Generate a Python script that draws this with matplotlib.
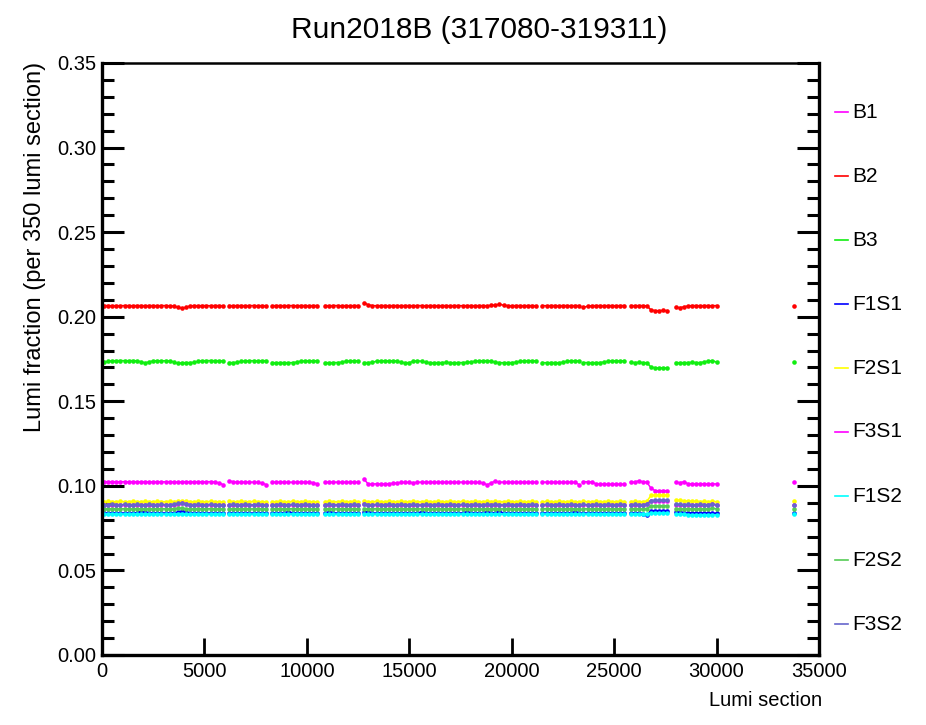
import matplotlib
matplotlib.use("Agg")
import matplotlib.pyplot as plt
import numpy as np
from matplotlib.lines import Line2D
from matplotlib.ticker import MultipleLocator

plt.rcParams["font.family"] = ["Liberation Sans", "DejaVu Sans"]

# lumi section of the first bin in each continuous block, bins are 200 apart
seg_start = [100, 6200, 8300, 10900, 12800, 21500, 23500, 25800, 28000, 33800]
bin_step = 200

# fractions in units of 1e-4, one inner list per block
B1 = [
    [1025, 1024, 1025, 1024, 1024, 1025, 1024, 1025, 1024, 1024, 1025, 1024, 1024, 1025, 1024,
     1024, 1025, 1024, 1023, 1024, 1025, 1024, 1024, 1025, 1024, 1024, 1025, 1024, 1017, 1008],
    [1030, 1024, 1022, 1022, 1023, 1022, 1022, 1021, 1017, 1008],
    [1022, 1022, 1023, 1022, 1022, 1021, 1022, 1023, 1022, 1022, 1019, 1012],
    [1022, 1023, 1022, 1022, 1021, 1022, 1022, 1023, 1022],
    [1038, 1010, 1011, 1012, 1011, 1012, 1013, 1015, 1018, 1020,
     1021, 1020, 1019, 1021, 1022, 1022, 1021, 1022, 1022, 1021,
     1022, 1022, 1021, 1022, 1022, 1021, 1022, 1021, 1020, 1018,
     1006, 1018, 1028, 1022, 1022, 1021, 1022, 1022, 1021, 1022,
     1022, 1021, 1022],
    [1022, 1022, 1021, 1022, 1022, 1021, 1022, 1022, 1020, 1007],
    [1025, 1024, 1023, 1013, 1010, 1011, 1010, 1010, 1011, 1010, 1010],
    [1022, 1023, 1030, 1024, 1022, 985, 972, 971, 972, 971],
    [1022, 1019, 1024, 1013, 1012, 1011, 1012, 1012, 1011, 1012, 1011],
    [1020],
]
B2 = [
    [2066, 2066, 2065, 2066, 2065, 2066, 2066, 2065, 2066, 2066, 2065, 2066, 2066, 2065, 2066,
     2066, 2065, 2063, 2055, 2050, 2056, 2064, 2066, 2065, 2066, 2066, 2065, 2066, 2066, 2065],
    [2066, 2065, 2066, 2066, 2065, 2066, 2066, 2065, 2066, 2065],
    [2065, 2066, 2066, 2065, 2066, 2066, 2065, 2066, 2066, 2065, 2066, 2066],
    [2066, 2065, 2066, 2066, 2065, 2066, 2065, 2066, 2066],
    [2082, 2070, 2066, 2065, 2066, 2066, 2065, 2066, 2066, 2065,
     2066, 2066, 2065, 2066, 2066, 2065, 2066, 2066, 2065, 2066,
     2066, 2065, 2066, 2066, 2065, 2066, 2066, 2065, 2066, 2066,
     2065, 2067, 2069, 2074, 2068, 2066, 2065, 2066, 2066, 2065,
     2066, 2066, 2065],
    [2066, 2065, 2066, 2066, 2065, 2066, 2066, 2065, 2066, 2066],
    [2055, 2062, 2065, 2066, 2066, 2065, 2066, 2066, 2065, 2066, 2066],
    [2066, 2065, 2066, 2066, 2064, 2040, 2036, 2036, 2037, 2036],
    [2055, 2054, 2058, 2064, 2066, 2066, 2065, 2066, 2066, 2065, 2066],
    [2065],
]
B3 = [
    [1732, 1736, 1740, 1740, 1741, 1740, 1740, 1741, 1739, 1734, 1727, 1733, 1739, 1740, 1739,
     1740, 1739, 1733, 1724, 1728, 1729, 1729, 1730, 1737, 1740, 1740, 1741, 1740, 1740, 1739],
    [1729, 1729, 1730, 1736, 1739, 1740, 1740, 1739, 1740, 1740],
    [1729, 1728, 1729, 1729, 1728, 1729, 1731, 1737, 1739, 1740, 1739, 1740],
    [1729, 1728, 1729, 1729, 1731, 1737, 1739, 1740, 1739],
    [1729, 1729, 1731, 1737, 1739, 1740, 1739, 1740, 1738, 1730,
     1728, 1729, 1736, 1739, 1737, 1730, 1729, 1728, 1729, 1729,
     1730, 1729, 1728, 1729, 1729, 1730, 1732, 1737, 1739, 1740,
     1740, 1738, 1731, 1729, 1728, 1729, 1729, 1731, 1736, 1739,
     1740, 1740, 1739],
    [1729, 1728, 1729, 1729, 1728, 1731, 1737, 1739, 1740, 1739],
    [1729, 1729, 1728, 1729, 1729, 1732, 1737, 1739, 1740, 1739, 1740],
    [1730, 1729, 1730, 1729, 1728, 1702, 1698, 1697, 1698, 1697],
    [1729, 1728, 1729, 1729, 1730, 1729, 1729, 1733, 1738, 1741, 1731],
    [1730],
]
F1S1 = [
    [838, 838, 839, 838, 838, 839, 838, 838, 842, 848, 843, 838, 839, 838, 838,
     839, 838, 838, 843, 850, 844, 838, 838, 839, 838, 838, 839, 838, 838, 837],
    [838, 839, 838, 838, 839, 838, 838, 839, 838, 837],
    [838, 838, 839, 838, 848, 840, 838, 838, 839, 838, 838, 837],
    [838, 847, 840, 838, 839, 838, 838, 839, 838],
    [848, 845, 838, 838, 839, 838, 838, 839, 838, 838,
     839, 838, 838, 839, 847, 839, 838, 838, 839, 838,
     838, 839, 838, 838, 839, 846, 840, 838, 839, 838,
     848, 839, 840, 849, 839, 838, 838, 839, 838, 838,
     838, 839, 838],
    [838, 839, 838, 838, 839, 838, 838, 839, 847, 838],
    [839, 838, 838, 839, 838, 838, 839, 838, 838, 839, 838],
    [838, 839, 838, 836, 828, 852, 854, 853, 854, 853],
    [843, 843, 842, 842, 840, 839, 838, 839, 838, 839, 838],
    [840],
]
F2S1 = [
    [907, 908, 907, 907, 908, 907, 907, 908, 907, 907, 908, 907, 907, 908, 907,
     907, 908, 907, 909, 910, 908, 907, 907, 908, 907, 907, 908, 907, 907, 906],
    [908, 907, 907, 908, 907, 907, 908, 907, 907, 906],
    [907, 907, 908, 907, 907, 908, 907, 907, 908, 907, 907, 906],
    [907, 908, 907, 907, 908, 907, 907, 908, 907],
    [909, 907, 907, 908, 907, 907, 908, 907, 907, 908,
     907, 907, 908, 907, 907, 908, 907, 907, 908, 907,
     907, 908, 907, 907, 908, 907, 907, 908, 907, 907,
     908, 907, 908, 907, 907, 908, 907, 907, 908, 907,
     907, 908, 907],
    [907, 908, 907, 907, 908, 907, 907, 908, 907, 906],
    [908, 907, 907, 908, 907, 907, 908, 907, 907, 908, 907],
    [907, 908, 907, 907, 910, 943, 945, 944, 945, 944],
    [915, 914, 912, 910, 909, 908, 907, 908, 907, 908, 907],
    [908],
]
F3S1 = [
    [887, 887, 888, 887, 887, 888, 887, 887, 888, 887, 887, 888, 887, 887, 888,
     887, 887, 889, 894, 897, 891, 887, 887, 888, 887, 887, 888, 887, 887, 886],
    [887, 888, 887, 887, 888, 887, 887, 888, 887, 886],
    [887, 887, 888, 887, 887, 888, 887, 887, 888, 887, 887, 886],
    [887, 888, 887, 887, 888, 887, 887, 888, 887],
    [891, 887, 887, 888, 887, 887, 888, 887, 887, 888,
     887, 887, 888, 887, 887, 888, 887, 887, 888, 887,
     887, 888, 887, 887, 888, 887, 887, 888, 887, 887,
     888, 887, 889, 887, 887, 888, 887, 887, 888, 887,
     887, 888, 887],
    [887, 888, 887, 887, 888, 887, 887, 888, 887, 886],
    [888, 887, 887, 888, 887, 887, 888, 887, 887, 888, 887],
    [887, 888, 887, 887, 891, 911, 913, 912, 913, 912],
    [889, 888, 887, 888, 887, 887, 888, 887, 887, 890, 887],
    [887],
]
F1S2 = [
    [833, 833, 834, 833, 833, 834, 833, 833, 834, 833, 833, 834, 833, 833, 834,
     833, 833, 834, 835, 836, 834, 833, 833, 834, 833, 833, 834, 833, 833, 832],
    [833, 834, 833, 833, 834, 833, 833, 834, 833, 832],
    [833, 833, 834, 833, 833, 834, 833, 833, 834, 833, 833, 832],
    [833, 834, 833, 833, 834, 833, 833, 834, 833],
    [835, 833, 833, 834, 833, 833, 834, 833, 833, 834,
     833, 833, 834, 833, 833, 834, 833, 833, 834, 833,
     833, 834, 833, 833, 834, 833, 833, 834, 833, 833,
     834, 833, 834, 833, 833, 834, 833, 833, 834, 833,
     833, 834, 833],
    [833, 834, 833, 833, 834, 833, 833, 834, 833, 832],
    [834, 833, 833, 834, 833, 833, 834, 833, 833, 834, 833],
    [833, 834, 833, 833, 834, 838, 840, 839, 840, 839],
    [834, 833, 832, 830, 829, 830, 829, 830, 829, 830, 829],
    [832],
]
F2S2 = [
    [864, 864, 865, 864, 864, 865, 864, 864, 865, 864, 864, 865, 864, 864, 865,
     864, 864, 865, 867, 868, 865, 864, 864, 865, 864, 864, 865, 864, 864, 863],
    [864, 865, 864, 864, 865, 864, 864, 865, 864, 863],
    [864, 864, 865, 864, 864, 865, 864, 864, 865, 864, 864, 863],
    [864, 865, 864, 864, 865, 864, 864, 865, 864],
    [866, 864, 864, 865, 864, 864, 865, 864, 864, 865,
     864, 864, 865, 864, 864, 865, 864, 864, 865, 864,
     864, 865, 864, 864, 865, 864, 864, 865, 864, 864,
     865, 864, 866, 864, 864, 865, 864, 864, 865, 864,
     864, 865, 864],
    [864, 865, 864, 864, 865, 864, 864, 865, 864, 863],
    [865, 864, 864, 865, 864, 864, 865, 864, 864, 865, 864],
    [864, 865, 864, 864, 866, 880, 882, 881, 882, 881],
    [866, 865, 864, 865, 864, 864, 865, 864, 864, 867, 864],
    [865],
]
F3S2 = [
    [889, 889, 890, 889, 889, 890, 889, 889, 890, 889, 889, 890, 889, 889, 890,
     889, 889, 891, 896, 899, 893, 889, 889, 890, 889, 889, 890, 889, 889, 888],
    [889, 890, 889, 889, 890, 889, 889, 890, 889, 888],
    [889, 889, 890, 889, 889, 890, 889, 889, 890, 889, 889, 888],
    [889, 890, 889, 889, 890, 889, 889, 890, 889],
    [893, 889, 889, 890, 889, 889, 890, 889, 889, 890,
     889, 889, 890, 889, 889, 890, 889, 889, 890, 889,
     889, 890, 889, 889, 890, 889, 889, 890, 889, 889,
     890, 889, 891, 889, 889, 890, 889, 889, 890, 889,
     889, 890, 889],
    [889, 890, 889, 889, 890, 889, 889, 890, 889, 888],
    [890, 889, 889, 890, 889, 889, 890, 889, 889, 890, 889],
    [889, 890, 889, 889, 893, 913, 915, 914, 915, 914],
    [891, 890, 889, 890, 889, 889, 890, 889, 889, 892, 889],
    [889],
]

names = ["B1", "B2", "B3", "F1S1", "F2S1", "F3S1", "F1S2", "F2S2", "F3S2"]
series = [B1, B2, B3, F1S1, F2S1, F3S1, F1S2, F2S2, F3S2]
colors = ["#ff00ff", "#ff0000", "#11ee11", "#0000ff", "#ffff00",
          "#ff00ff", "#00ffff", "#55cc55", "#6666cc"]

W, H = 926, 725
fig = plt.figure(figsize=(W / 100, H / 100), dpi=100)
ax = fig.add_axes([102 / W, 1 - 655 / H, (819 - 102) / W, (655 - 63) / H])

for vals, color in zip(series, colors):
    for start, block in zip(seg_start, vals):
        x = start + bin_step * np.arange(len(block))
        y = np.array(block) / 1e4
        ax.plot(x, y, color=color, lw=1.1, marker="o", ms=3.3, mew=0)

ax.set_xlim(0, 35000)
ax.set_ylim(0, 0.35)
ax.xaxis.set_major_locator(MultipleLocator(5000))
ax.yaxis.set_major_locator(MultipleLocator(0.05))
ax.yaxis.set_minor_locator(MultipleLocator(0.01))
ax.yaxis.set_major_formatter(plt.FormatStrFormatter("%.2f"))

for side in ["left", "bottom", "right"]:
    ax.spines[side].set_linewidth(2.4)
ax.spines["top"].set_linewidth(1.8)

ax.tick_params(axis="y", which="major", direction="in", length=16, width=2.2,
               left=True, right=True, labelsize=14.5, pad=4)
ax.tick_params(axis="y", which="minor", direction="in", length=8.5, width=2.2,
               left=True, right=True)
ax.tick_params(axis="x", which="major", direction="in", length=12, width=2,
               top=False, labelsize=14.5, pad=5)

fig.text(479 / W, 1 - 30 / H, "Run2018B (317080-319311)", fontsize=21.5,
         ha="center", va="center")
fig.text(35 / W, 1 - 62 / H, "Lumi fraction (per 350 lumi section)", fontsize=17,
         rotation=90, ha="center", va="top")
fig.text(822 / W, 1 - 700 / H, "Lumi section", fontsize=14.5, ha="right", va="center")

# legend outside the frame on the right
for i, (name, color) in enumerate(zip(names, colors)):
    yf = 1 - (112 + 64 * i) / H
    fig.add_artist(Line2D([835 / W, 848 / W], [yf, yf], color=color, lw=1.2))
    fig.text(852 / W, yf, name, fontsize=15, ha="left", va="center")

fig.savefig("out.png", dpi=100)
